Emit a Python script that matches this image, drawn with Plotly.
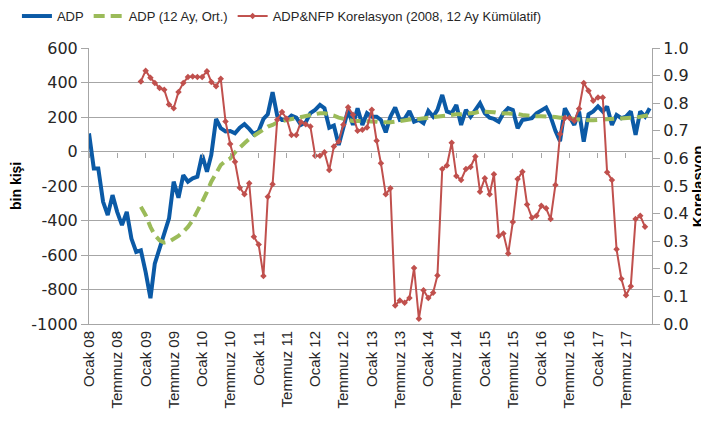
import plotly.graph_objects as go
import pandas as pd

months = pd.date_range("2008-01-01", periods=120, freq="MS").strftime("%Y-%m-%d").tolist()

tick_dates = months[::6]
tick_labels = []
for d in tick_dates:
    y, m = d[2:4], d[5:7]
    tick_labels.append(("Ocak " if m == "01" else "Temmuz ") + y)

left_ticks = [-1000, -800, -600, -400, -200, 0, 200, 400, 600]
left_tick_text = ["-1000", "-800", "-600", "-400", "-200", "0", "200", "400", "600"]

adp = [105, -98, -98, -292, -369, -253, -350, -427, -350, -505,
       -582, -573, -699, -850, -650, -563, -466, -388, -175, -268,
       -137, -175, -156, -146, -20, -117, -20, 189, 135, 116,
       119, 106, 138, 158, 131, 100, 119, 189, 216, 344,
       208, 183, 183, 208, 196, 154, 169, 222, 241, 270,
       251, 138, 150, 38, 138, 241, 154, 251, 154, 222,
       202, 202, 183, 111, 202, 255, 183, 189, 235, 173,
       183, 164, 235, 202, 241, 328, 232, 222, 270, 154,
       241, 202, 241, 280, 222, 196, 189, 173, 222, 251,
       241, 135, 183, 189, 193, 222, 241, 255, 202, 120,
       60, 251, 202, 154, 232, 57, 216, 232, 261, 232,
       261, 154, 212, 193, 202, 232, 96, 232, 202, 251]

adp_12m = [None] * 11 + [
    -321, -369, -437, -485, -515, -528, -523, -509, -489,
    -466, -437, -398, -350, -292, -234, -175, -127, -78, -55,
    -40, -5, 25, 48, 73, 92, 112, 131, 144, 154,
    169, 177, 183, 189, 193, 196, 202, 208, 216, 222,
    222, 216, 208, 196, 189, 183, 177, 177, 177, 177,
    177, 173, 169, 167, 169, 173, 177, 183, 189, 189,
    189, 193, 193, 196, 202, 208, 212, 212, 216, 216,
    218, 222, 225, 232, 232, 232, 228, 222, 222, 222,
    222, 218, 212, 208, 206, 204, 204, 204, 202, 200,
    196, 196, 193, 189, 185, 181, 181, 181, 183, 185,
    189, 193, 193, 193, 196, 196, 196, 200, 204, 212]

korelasyon = [None] * 11 + [
    0.879, 0.918, 0.892, 0.873, 0.855, 0.849, 0.795, 0.782, 0.841,
    0.873, 0.895, 0.897, 0.895, 0.895, 0.916, 0.877, 0.861, 0.889, 0.734,
    0.652, 0.588, 0.494, 0.470, 0.510, 0.316, 0.288, 0.174, 0.461, 0.506,
    0.740, 0.768, 0.744, 0.685, 0.685, 0.732, 0.724, 0.716, 0.610, 0.610,
    0.622, 0.558, 0.643, 0.661, 0.722, 0.785, 0.758, 0.700, 0.704, 0.712,
    0.776, 0.664, 0.582, 0.470, 0.492, 0.067, 0.085, 0.077, 0.094, 0.203,
    0.019, 0.122, 0.094, 0.113, 0.176, 0.562, 0.574, 0.657, 0.536, 0.522,
    0.562, 0.569, 0.607, 0.479, 0.528, 0.470, 0.543, 0.319, 0.328, 0.255,
    0.370, 0.525, 0.552, 0.433, 0.385, 0.392, 0.428, 0.419, 0.380, 0.504,
    0.688, 0.746, 0.746, 0.736, 0.780, 0.873, 0.845, 0.809, 0.821, 0.821,
    0.550, 0.522, 0.271, 0.164, 0.104, 0.137, 0.380, 0.392, 0.352, None]

BLUE = "#0B5AA6"
GREEN = "#9BBB59"
RED = "#C0504D"
GRID = "#A6A6A6"
TXT = "#262626"

fig = go.Figure()
fig.add_trace(go.Scatter(x=months, y=adp, name="ADP", mode="lines",
                         line=dict(color=BLUE, width=4)))
fig.add_trace(go.Scatter(x=months, y=adp_12m, name="ADP (12 Ay, Ort.)", mode="lines",
                         line=dict(color=GREEN, width=4, dash="11px,6px")))
fig.add_trace(go.Scatter(x=months, y=korelasyon, name="ADP&NFP Korelasyon (2008, 12 Ay Kümülatif)",
                         mode="lines+markers", yaxis="y2",
                         line=dict(color=RED, width=2),
                         marker=dict(symbol="diamond", size=5, color=RED)))

xrange = ["2008-01-01", "2017-12-16"]

fig.update_layout(
    width=701, height=417,
    margin=dict(l=81, r=57, t=40, b=101, autoexpand=False),
    paper_bgcolor="white", plot_bgcolor="white",
    font=dict(family="Liberation Sans, Arial, sans-serif", color=TXT),
    showlegend=True,
    legend=dict(orientation="h", x=-0.128, xanchor="left", y=1.17, yanchor="top",
                font=dict(size=13, family="Liberation Sans, Arial, sans-serif", color=TXT),
                bgcolor="rgba(0,0,0,0)", itemwidth=30, tracegroupgap=0),
    xaxis=dict(range=xrange, tickmode="array", tickvals=tick_dates, ticktext=tick_labels,
               tickangle=-90, tickfont=dict(size=15, family="Liberation Sans, Arial, sans-serif"),
               showgrid=False, showline=True, linecolor=GRID, linewidth=1,
               ticks="", zeroline=False),
    xaxis2=dict(range=xrange, overlaying="x", anchor="free", position=0.625,
                tickmode="array", tickvals=tick_dates, showticklabels=False,
                ticks="outside", ticklen=5, tickcolor=GRID, showgrid=False,
                showline=False, zeroline=False),
    yaxis=dict(range=[-1000, 600], tickmode="array", tickvals=left_ticks, ticktext=left_tick_text,
               tickfont=dict(size=16, family="DejaVu Sans, sans-serif"),
               showgrid=True, gridcolor=GRID, gridwidth=1,
               showline=True, linecolor=GRID, ticks="outside", ticklen=7, tickcolor=GRID,
               zeroline=False),
    yaxis2=dict(range=[0, 1], dtick=0.1, tick0=0, tickformat=".1f", overlaying="y", side="right",
                tickfont=dict(size=16, family="DejaVu Sans, sans-serif"),
                showgrid=False, showline=True, linecolor=GRID,
                ticks="outside", ticklen=7, tickcolor=GRID, zeroline=False),
    annotations=[
        dict(text="<b>bin kişi</b>", xref="paper", yref="paper", x=-0.1297, y=0.5,
             xanchor="center", yanchor="middle",
             textangle=-90, showarrow=False, font=dict(size=14, color="#000000")),
        dict(text="<b>Korelasyon</b>", xref="paper", yref="paper", x=1.099, y=0.5,
             xanchor="right", yanchor="middle",
             textangle=-90, showarrow=False, font=dict(size=15, color="#000000")),
    ],
)

# dummy trace to activate the tick-mark axis at y = 0
fig.add_trace(go.Scatter(x=[months[0]], y=[None], xaxis="x2", showlegend=False,
                         hoverinfo="skip"))

fig.write_html("out.html")
